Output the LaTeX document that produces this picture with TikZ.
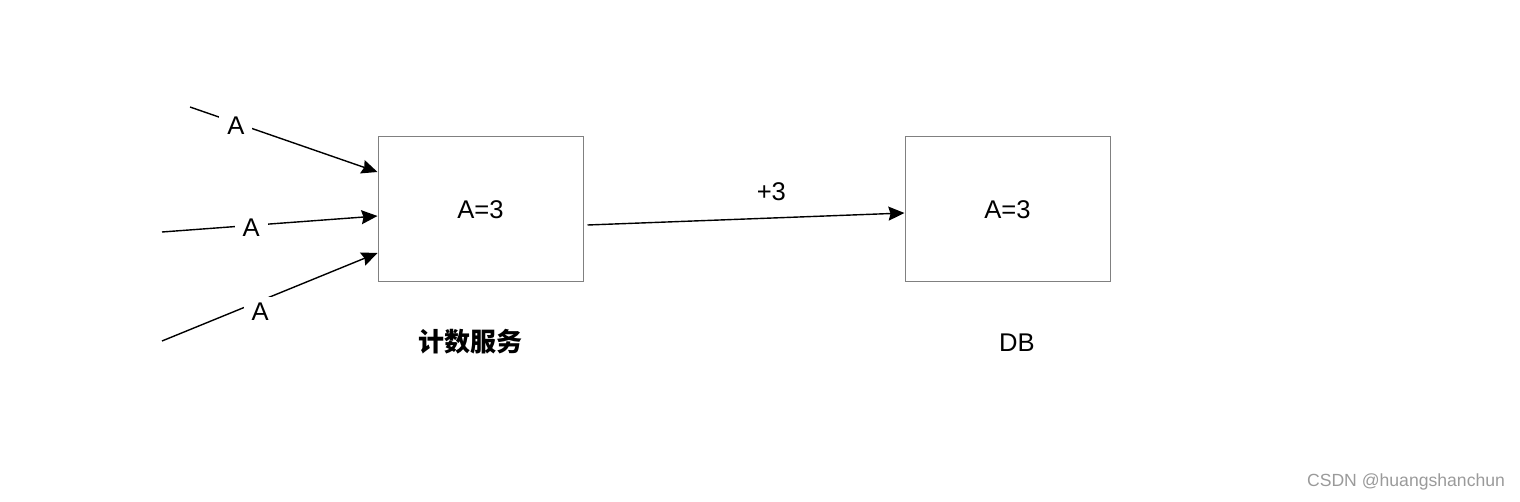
\documentclass[tikz,border=0pt]{standalone}
\usepackage{fontspec}
\setmainfont{Liberation Sans}
\newfontfamily\cjk{Noto Sans CJK SC}
\usetikzlibrary{arrows.meta,positioning}
\definecolor{boxgray}{HTML}{808080}
\definecolor{markgray}{HTML}{9A9A9A}

\begin{document}
\begin{tikzpicture}[x=0.5pt, y=-0.5pt, ->, >={Stealth[length=8pt,width=7pt,inset=1pt]}, line width=0.7pt,
  font=\fontsize{12.8}{15}\selectfont,
  box/.style={draw=boxgray, line width=0.5pt, minimum width=102.5pt, minimum height=72.5pt, inner sep=0pt},
  lbl/.style={fill=white, inner xsep=4pt, inner ysep=3pt}]
\path[use as bounding box] (0,0) rectangle (1520,502);
\node[box] (count) at (480.5,209.5) {A=3};
\node[box] (db) at (1007.5,209.5) {A=3};
\node[font={\fontsize{13}{15}\selectfont\cjk\bfseries}] (countname) at (470,342) {计数服务};
\node (dbname) at (1017,343) {DB};
\node[text=markgray, font=\fontsize{8.8}{10}\selectfont] (mark) at (1406,482) {CSDN @huangshanchun};
\coordinate (a1) at (190,107);
\coordinate (a2) at (162,232);
\coordinate (a3) at (162,341);
\path (a1) edge node[lbl, pos=0.245, yshift=-1.5pt] {A} ([yshift=18.75pt]count.west);
\path (a2) edge node[lbl, pos=0.414, yshift=-1pt] {A} ([yshift=-3.25pt]count.west);
\path (a3) edge node[lbl, pos=0.456, yshift=-5.5pt] {A} ([yshift=-21.75pt]count.west);
\path ([xshift=2pt,yshift=-7.75pt]count.east) edge node[pos=0.58, yshift=13pt] {+3} ([yshift=-1.75pt]db.west);
\end{tikzpicture}
\end{document}
